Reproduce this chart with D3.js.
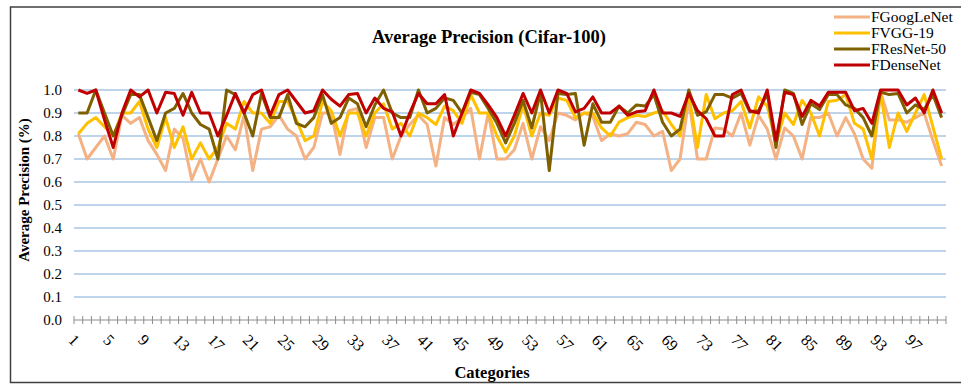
<!DOCTYPE html>
<html>
<head>
<meta charset="utf-8">
<script src="https://cdn.jsdelivr.net/npm/d3@7"></script>
<style>
  body { margin: 0; background: #fff; }
  svg { display: block; font-family: "Liberation Serif", "Times New Roman", serif; }
</style>
</head>
<body>
<div id="chart"></div>
<script>
// categories 1..100
var categories = d3.range(1, 101);

var googlenet = [0.81,0.70,0.75,0.80,0.70,0.89,0.855,0.88,0.78,0.72,
  0.65,0.83,0.79,0.61,0.70,0.60,0.70,0.80,0.74,0.89,
  0.65,0.83,0.84,0.89,0.83,0.80,0.70,0.75,0.90,0.90,
  0.72,0.91,0.92,0.75,0.88,0.88,0.70,0.80,0.85,0.89,
  0.85,0.67,0.88,0.85,0.88,0.92,0.70,0.90,0.70,0.70,
  0.74,0.855,0.70,0.84,0.78,0.90,0.89,0.87,0.90,0.885,
  0.78,0.81,0.80,0.81,0.86,0.85,0.80,0.82,0.65,0.70,
  0.955,0.70,0.70,0.835,0.83,0.80,0.90,0.76,0.89,0.83,
  0.70,0.835,0.80,0.70,0.88,0.88,0.90,0.80,0.88,0.81,
  0.70,0.66,0.99,0.87,0.87,0.86,0.88,0.90,0.78,0.67];

var vgg19 = [0.81,0.855,0.88,0.84,0.80,0.90,0.90,0.95,0.83,0.75,
  0.88,0.75,0.84,0.70,0.77,0.70,0.75,0.855,0.83,0.95,
  0.90,0.90,0.855,0.95,0.95,0.87,0.78,0.80,0.95,0.91,
  0.80,0.90,0.90,0.80,0.90,0.94,0.83,0.855,0.80,0.90,
  0.88,0.85,0.93,0.91,0.855,0.98,0.90,0.90,0.80,0.73,
  0.80,0.935,0.80,0.90,0.89,0.965,0.955,0.88,0.90,0.90,
  0.835,0.80,0.86,0.88,0.89,0.885,0.90,0.91,0.85,0.80,
  0.98,0.75,0.98,0.875,0.90,0.91,0.95,0.835,0.97,0.93,
  0.77,0.90,0.85,0.955,0.90,0.80,0.95,0.955,0.98,0.855,
  0.83,0.70,0.99,0.75,0.90,0.82,0.90,0.98,0.84,0.70];

var resnet50 = [0.90,0.90,1.00,0.90,0.80,0.89,0.98,0.98,0.88,0.78,
  0.90,0.92,0.985,0.90,0.85,0.83,0.70,1.00,0.98,0.90,
  0.80,0.985,0.88,0.88,0.98,0.855,0.84,0.88,0.98,0.855,
  0.88,0.965,0.94,0.84,0.935,1.00,0.90,0.88,0.88,1.00,
  0.90,0.92,0.965,0.955,0.90,0.99,0.98,0.92,0.855,0.77,
  0.855,0.955,0.835,0.99,0.65,0.985,0.98,0.985,0.76,0.94,
  0.86,0.86,0.93,0.90,0.935,0.93,0.98,0.86,0.80,0.83,
  1.00,0.89,0.905,0.98,0.98,0.965,0.985,0.905,0.91,0.985,
  0.75,1.00,0.985,0.85,0.94,0.915,0.98,0.98,0.935,0.92,
  0.88,0.80,0.99,0.98,0.985,0.90,0.935,0.915,0.98,0.88];

var densenet = [1.00,0.985,1.00,0.87,0.75,0.90,1.00,0.97,1.00,0.90,
  0.99,0.985,0.89,0.99,0.90,0.90,0.80,0.89,0.985,0.90,
  0.98,1.00,0.89,0.98,1.00,0.95,0.90,0.91,1.00,0.96,
  0.93,0.98,0.985,0.90,0.965,0.92,0.905,0.80,0.90,0.985,
  0.94,0.94,0.98,0.80,0.90,1.00,0.985,0.935,0.88,0.80,
  0.89,0.985,0.90,1.00,0.90,1.00,0.985,0.905,0.92,0.97,
  0.90,0.90,0.93,0.89,0.905,0.91,1.00,0.90,0.90,0.885,
  0.985,0.91,0.875,0.80,0.80,0.98,1.00,0.91,0.90,1.00,
  0.78,0.99,0.98,0.885,0.955,0.93,0.99,0.99,0.99,0.91,
  0.92,0.855,1.00,1.00,1.00,0.935,0.965,0.90,1.00,0.90];

var seriesNames = ["FGoogLeNet", "FVGG-19", "FResNet-50", "FDenseNet"];
var seriesColors = ["#f4b183", "#ffc000", "#7f6000", "#c00000"];
var seriesValues = [googlenet, vgg19, resnet50, densenet];
var yTicks = [0, 0.1, 0.2, 0.3, 0.4, 0.5, 0.6, 0.7, 0.8, 0.9, 1.0];

var width = 961, height = 384;
var plot = {left: 74, right: 946, top: 90, bottom: 320};

var svg = d3.select("#chart")
    .append("svg")
    .attr("width", width)
    .attr("height", height);

// outer frame (runs off the right edge)
svg.append("path")
    .attr("d", "M 975 7 L 10.5 7 L 10.5 382.5 L 975 382.5")
    .attr("fill", "none")
    .attr("stroke", "#404040")
    .attr("stroke-width", 1.5);

var x = d3.scaleBand()
    .domain(categories)
    .range([plot.left, plot.right]);

var y = d3.scaleLinear()
    .domain([0, 1])
    .range([plot.bottom, plot.top]);

// gridlines
svg.append("g")
    .attr("class", "grid")
    .selectAll("line")
    .data(yTicks.slice(1))
    .enter()
    .append("line")
    .attr("x1", plot.left)
    .attr("x2", plot.right)
    .attr("y1", function(d) { return y(d); })
    .attr("y2", function(d) { return y(d); })
    .attr("stroke", "#a9c6e3")
    .attr("stroke-width", 1.5);

// y axis labels
var yAxis = d3.axisLeft(y)
    .tickValues(yTicks)
    .tickSize(0)
    .tickPadding(0)
    .tickFormat(d3.format(".1f"));

var gy = svg.append("g")
    .attr("transform", "translate(" + (plot.left - 12) + ",0)")
    .call(yAxis);
gy.select(".domain").remove();
gy.selectAll(".tick text")
    .attr("font-family", "Liberation Serif")
    .attr("font-size", 15)
    .attr("fill", "#000");

// x axis line + ticks at category boundaries
svg.append("line")
    .attr("x1", plot.left)
    .attr("x2", plot.right)
    .attr("y1", plot.bottom)
    .attr("y2", plot.bottom)
    .attr("stroke", "#8c8c8c")
    .attr("stroke-width", 1);

svg.append("g")
    .selectAll("line")
    .data(categories.concat(["end"]))
    .enter()
    .append("line")
    .attr("x1", function(d) { return d === "end" ? plot.right : x(d); })
    .attr("x2", function(d) { return d === "end" ? plot.right : x(d); })
    .attr("y1", plot.bottom - 4)
    .attr("y2", plot.bottom + 4)
    .attr("stroke", "#8c8c8c")
    .attr("stroke-width", 1);

// category labels, every fourth one, rotated
var bw = x.bandwidth();
svg.append("g")
    .selectAll("text")
    .data(categories.filter(function(d) { return (d - 1) % 4 === 0; }))
    .enter()
    .append("text")
    .attr("transform", function(d) {
        return "translate(" + (x(d) + bw / 2 - 3) + "," + (plot.bottom + 13) + ") rotate(45)";
    })
    .attr("dy", "0.7em")
    .attr("text-anchor", "start")
    .attr("font-size", 16)
    .attr("fill", "#000")
    .text(function(d) { return d; });

// series lines
var line = d3.line()
    .x(function(d, i) { return x(categories[i]) + bw / 2; })
    .y(function(d) { return y(d); });

svg.append("g")
    .selectAll("path")
    .data(seriesValues)
    .enter()
    .append("path")
    .attr("d", line)
    .attr("fill", "none")
    .attr("stroke", function(d, i) { return seriesColors[i]; })
    .attr("stroke-width", 3)
    .attr("stroke-linejoin", "round");

// title
svg.append("text")
    .attr("x", 489)
    .attr("y", 43)
    .attr("text-anchor", "middle")
    .attr("font-size", 18.5)
    .attr("font-weight", "bold")
    .text("Average Precision (Cifar-100)");

// axis titles
svg.append("text")
    .attr("transform", "translate(29,190) rotate(-90)")
    .attr("text-anchor", "middle")
    .attr("font-size", 15)
    .attr("font-weight", "bold")
    .text("Average Precision (%)");

svg.append("text")
    .attr("x", 492)
    .attr("y", 378)
    .attr("text-anchor", "middle")
    .attr("font-size", 16.5)
    .attr("font-weight", "bold")
    .text("Categories");

// legend
var legend = svg.append("g")
    .selectAll("g")
    .data(seriesNames)
    .enter()
    .append("g")
    .attr("transform", function(d, i) { return "translate(834," + (17 + i * 16) + ")"; });

legend.append("line")
    .attr("x1", 0)
    .attr("x2", 36)
    .attr("stroke", function(d, i) { return seriesColors[i]; })
    .attr("stroke-width", 3);

legend.append("text")
    .attr("x", 37)
    .attr("dy", "0.35em")
    .attr("font-size", 15.5)
    .text(function(d) { return d; });
</script>
</body>
</html>
